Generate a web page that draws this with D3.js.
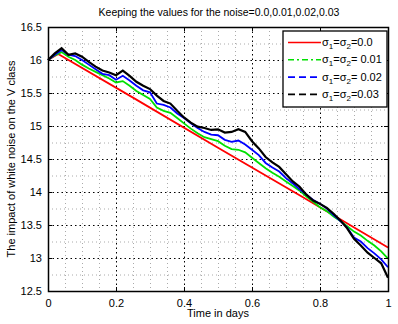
<!DOCTYPE html>
<html>
<head>
<meta charset="utf-8">
<script src="https://cdn.jsdelivr.net/npm/d3@7"></script>
<style>
  body { margin: 0; background: #fff; }
  text { font-family: "Liberation Sans", Arial, sans-serif; }
</style>
</head>
<body>
<div id="chart"></div>
<script>
// ############### data ###############
var timeDays = [0, 0.02, 0.04, 0.06, 0.08, 0.10, 0.12, 0.14, 0.16, 0.18, 0.20,
  0.22, 0.24, 0.26, 0.28, 0.30, 0.32, 0.34, 0.36, 0.38, 0.40,
  0.42, 0.44, 0.46, 0.48, 0.50, 0.52, 0.54, 0.56, 0.58, 0.60,
  0.62, 0.64, 0.66, 0.68, 0.70, 0.72, 0.74, 0.76, 0.78, 0.80,
  0.82, 0.84, 0.86, 0.88, 0.90, 0.92, 0.94, 0.96, 0.98, 1.00];

var redTime = [0, 0.03, 0.25, 0.5, 0.75, 1];
var noise000 = [16.0, 16.09, 15.43, 14.67, 13.92, 13.16];

var noise001 = [16.00, 16.07, 16.12, 16.05, 16.00, 15.93, 15.87, 15.82, 15.77, 15.72, 15.66,
  15.68, 15.61, 15.53, 15.47, 15.41, 15.28, 15.23, 15.20, 15.12, 15.04,
  14.96, 14.89, 14.83, 14.80, 14.77, 14.70, 14.65, 14.64, 14.60, 14.52,
  14.44, 14.36, 14.29, 14.23, 14.16, 14.09, 14.02, 13.93, 13.85, 13.77,
  13.71, 13.63, 13.56, 13.48, 13.40, 13.34, 13.26, 13.19, 13.10, 12.99];

var noise002 = [16.00, 16.08, 16.15, 16.08, 16.06, 16.00, 15.93, 15.86, 15.79, 15.77, 15.70,
  15.76, 15.69, 15.61, 15.54, 15.51, 15.34, 15.32, 15.28, 15.19, 15.12,
  15.04, 14.97, 14.91, 14.87, 14.86, 14.79, 14.76, 14.78, 14.72, 14.64,
  14.56, 14.44, 14.37, 14.31, 14.21, 14.13, 14.04, 13.96, 13.88, 13.82,
  13.75, 13.65, 13.56, 13.46, 13.31, 13.25, 13.15, 13.07, 12.98, 12.86];

var noise003 = [16.00, 16.10, 16.18, 16.08, 16.10, 16.05, 15.97, 15.90, 15.84, 15.81, 15.77,
  15.84, 15.76, 15.67, 15.61, 15.56, 15.46, 15.38, 15.34, 15.23, 15.13,
  15.05, 14.99, 14.97, 14.94, 14.95, 14.90, 14.91, 14.95, 14.91, 14.77,
  14.66, 14.53, 14.45, 14.38, 14.27, 14.16, 14.08, 13.96, 13.87, 13.82,
  13.76, 13.67, 13.57, 13.45, 13.29, 13.19, 13.08, 13.00, 12.92, 12.70];

var xTicks = [0, 0.2, 0.4, 0.6, 0.8, 1];
var yTicks = [12.5, 13, 13.5, 14, 14.5, 15, 15.5, 16, 16.5];
var xMinor = [0.05, 0.1, 0.15, 0.25, 0.3, 0.35, 0.45, 0.5, 0.55, 0.65, 0.7, 0.75, 0.85, 0.9, 0.95];
var yMinor = [12.75, 13.25, 13.75, 14.25, 14.75, 15.25, 15.75, 16.25];
var legendLabels = [["0.0", ""], ["0.01", " "], ["0.02", " "], ["0.03", ""]];

var series = [
  { name: 'red', time: redTime, values: noise000, color: '#ff0000', legendDash: null },
  { name: 'green', time: timeDays, values: noise001, color: '#00e000', legendDash: '6,3,2,3' },
  { name: 'blue', time: timeDays, values: noise002, color: '#0000ff', legendDash: '7,4' },
  { name: 'black', time: timeDays, values: noise003, color: '#000000', legendDash: '7,4' }
];

var attrs = {
  svgWidth: 398,
  svgHeight: 324,
  marginTop: 27,
  marginBottom: 30,
  marginRight: 10,
  marginLeft: 48
};

var calc = {};
calc.chartWidth = attrs.svgWidth - attrs.marginLeft - attrs.marginRight;
calc.chartHeight = attrs.svgHeight - attrs.marginTop - attrs.marginBottom - 3;

// ###################  scales ##################
var scales = {};
scales.x = d3.scaleLinear().domain([0, 1]).range([0, calc.chartWidth]);
scales.y = d3.scaleLinear().domain([12.5, 16.5]).range([calc.chartHeight, 0]);

var svg = d3.select('#chart').append('svg')
  .attr('width', attrs.svgWidth)
  .attr('height', attrs.svgHeight);

var chart = svg.append('g')
  .attr('transform', 'translate(' + attrs.marginLeft + ',' + attrs.marginTop + ')');

// minor grid
chart.selectAll('.minor-x').data(xMinor).enter().append('line')
  .attr('x1', d => scales.x(d) + 0.5).attr('x2', d => scales.x(d) + 0.5)
  .attr('y1', 0).attr('y2', calc.chartHeight)
  .attr('stroke', '#aaa').attr('stroke-dasharray', '1,3');
chart.selectAll('.minor-y').data(yMinor).enter().append('line')
  .attr('y1', d => scales.y(d) + 0.5).attr('y2', d => scales.y(d) + 0.5)
  .attr('x1', 0).attr('x2', calc.chartWidth)
  .attr('stroke', '#aaa').attr('stroke-dasharray', '1,3');

// major grid
chart.selectAll('.major-x').data(xTicks.slice(1, -1)).enter().append('line')
  .attr('x1', d => scales.x(d) + 0.5).attr('x2', d => scales.x(d) + 0.5)
  .attr('y1', 0).attr('y2', calc.chartHeight)
  .attr('stroke', '#000').attr('stroke-dasharray', '1.5,3');
chart.selectAll('.major-y').data(yTicks.slice(1, -1)).enter().append('line')
  .attr('y1', d => scales.y(d) + 0.5).attr('y2', d => scales.y(d) + 0.5)
  .attr('x1', 0).attr('x2', calc.chartWidth)
  .attr('stroke', '#000').attr('stroke-dasharray', '1.5,3');

// lines (dense noisy paths look solid in the plot)
var line = d3.line()
  .x(function (d) { return scales.x(d[0]); })
  .y(function (d) { return scales.y(d[1]); });

series.forEach(function (s) {
  chart.append('path')
    .datum(s.time.map(function (t, i) { return [t, s.values[i]]; }))
    .attr('d', line)
    .attr('fill', 'none')
    .attr('stroke', s.color)
    .attr('stroke-width', s.name === 'black' ? 2.2 : 1.8);
});

// axes
var axes = {};
axes.bottom = d3.axisBottom(scales.x).tickValues(xTicks).tickFormat(d3.format('')).tickSizeInner(-4).tickSizeOuter(0).tickPadding(8);
axes.left = d3.axisLeft(scales.y).tickValues(yTicks).tickFormat(d3.format('')).tickSizeInner(-4).tickSizeOuter(0).tickPadding(6);
axes.top = d3.axisTop(scales.x).tickValues(xTicks).tickFormat('').tickSizeInner(-4).tickSizeOuter(0);
axes.right = d3.axisRight(scales.y).tickValues(yTicks).tickFormat('').tickSizeInner(-4).tickSizeOuter(0);

function styleAxis(g) {
  g.select('.domain').remove();
  g.selectAll('text').attr('font-size', 11).attr('fill', '#000')
    .style('font-family', '"Liberation Sans", Arial, sans-serif');
  g.selectAll('line').attr('stroke', '#000');
}

chart.append('g').attr('transform', 'translate(0,' + calc.chartHeight + ')').call(axes.bottom).call(styleAxis);
chart.append('g').call(axes.left).call(styleAxis);
chart.append('g').call(axes.top).call(styleAxis);
chart.append('g').attr('transform', 'translate(' + calc.chartWidth + ',0)').call(axes.right).call(styleAxis);

// box
chart.append('rect')
  .attr('x', 0.5).attr('y', 0.5)
  .attr('width', calc.chartWidth).attr('height', calc.chartHeight)
  .attr('fill', 'none').attr('stroke', '#000').attr('stroke-width', 1.5);

// legend
var legend = chart.append('g').attr('transform', 'translate(' + (283 - attrs.marginLeft) + ',' + (31 - attrs.marginTop) + ')');
legend.append('rect')
  .attr('width', 104).attr('height', 76)
  .attr('fill', '#fff').attr('stroke', '#000').attr('stroke-width', 1.3);

series.forEach(function (s, i) {
  var y = 11.5 + i * 17.3;
  legend.append('line')
    .attr('x1', 5).attr('x2', 38).attr('y1', y).attr('y2', y)
    .attr('stroke', s.color).attr('stroke-width', 1.6)
    .attr('stroke-dasharray', s.legendDash);
  var t = legend.append('text').attr('x', 39).attr('y', y + 3.5).attr('font-size', 11).attr('fill', '#000');
  t.append('tspan').text('\u03c3');
  t.append('tspan').attr('font-size', 8).attr('dy', 3).text('1');
  t.append('tspan').attr('dy', -3).text('=\u03c3');
  t.append('tspan').attr('font-size', 8).attr('dy', 3).text('2');
  t.append('tspan').attr('dy', -3).text('=' + legendLabels[i][1] + legendLabels[i][0]);
});

// titles
svg.append('text')
  .attr('x', 219).attr('y', 16)
  .attr('text-anchor', 'middle').attr('font-size', 10.5)
  .text('Keeping the values for the noise=0.0,0.01,0.02,0.03');

svg.append('text')
  .attr('x', 218).attr('y', 317)
  .attr('text-anchor', 'middle').attr('font-size', 11)
  .text('Time in days');

svg.append('text')
  .attr('transform', 'translate(15,' + (attrs.marginTop + calc.chartHeight / 2) + ') rotate(-90)')
  .attr('text-anchor', 'middle').attr('font-size', 11)
  .text('The impact of white noise on the V class');
</script>
</body>
</html>
